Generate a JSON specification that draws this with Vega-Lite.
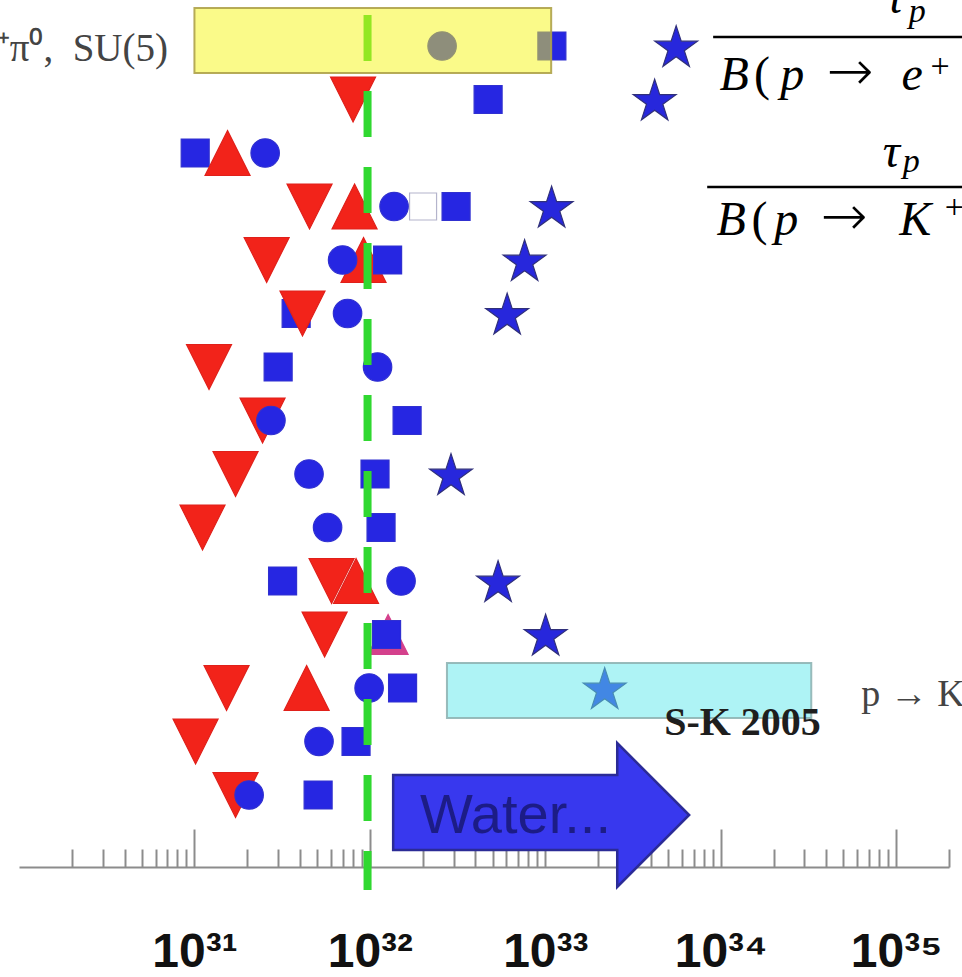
{
  "$schema": "https://vega.github.io/schema/vega-lite/v6.json",
  "width": 930,
  "height": 867,
  "autosize": {"type": "none"},
  "padding": {"left": 19, "top": 0, "right": 13, "bottom": 110},
  "background": "white",
  "config": {"view": {"stroke": null}},
  "datasets": {
    "markers": [
      {"row": 1, "x": 2.58e32, "kind": "circle"}, {"row": 1, "x": 1.09e33, "kind": "square"}, {"row": 1, "x": 5.57e33, "kind": "star"},
      {"row": 2, "x": 8.02e31, "kind": "tri-down"}, {"row": 2, "x": 4.72e32, "kind": "square"}, {"row": 2, "x": 4.2e33, "kind": "star"},
      {"row": 3, "x": 1.01e31, "kind": "square"}, {"row": 3, "x": 1.544e31, "kind": "tri-up"}, {"row": 3, "x": 2.53e31, "kind": "circle"},
      {"row": 4, "x": 4.53e31, "kind": "tri-down"}, {"row": 4, "x": 8.18e31, "kind": "tri-up"}, {"row": 4, "x": 1.374e32, "kind": "circle"}, {"row": 4, "x": 2.01e32, "kind": "open"}, {"row": 4, "x": 3.1e32, "kind": "square"}, {"row": 4, "x": 1.086e33, "kind": "star"},
      {"row": 5, "x": 9.2e31, "kind": "tri-up"}, {"row": 5, "x": 2.58e31, "kind": "tri-down"}, {"row": 5, "x": 6.99e31, "kind": "circle"}, {"row": 5, "x": 1.262e32, "kind": "square"}, {"row": 5, "x": 7.62e32, "kind": "star"},
      {"row": 6, "x": 3.8e31, "kind": "square"}, {"row": 6, "x": 4.13e31, "kind": "tri-down"}, {"row": 6, "x": 7.46e31, "kind": "circle"}, {"row": 6, "x": 6.06e32, "kind": "star"},
      {"row": 7, "x": 1.211e31, "kind": "tri-down"}, {"row": 7, "x": 3.0e31, "kind": "square"}, {"row": 7, "x": 1.106e32, "kind": "circle"},
      {"row": 8, "x": 2.445e31, "kind": "tri-down"}, {"row": 8, "x": 2.73e31, "kind": "circle"}, {"row": 8, "x": 1.63e32, "kind": "square"},
      {"row": 9, "x": 1.715e31, "kind": "tri-down"}, {"row": 9, "x": 4.5e31, "kind": "circle"}, {"row": 9, "x": 1.07e32, "kind": "square"}, {"row": 9, "x": 2.9e32, "kind": "star"},
      {"row": 10, "x": 1.112e31, "kind": "tri-down"}, {"row": 10, "x": 5.74e31, "kind": "circle"}, {"row": 10, "x": 1.158e32, "kind": "square"},
      {"row": 11, "x": 3.18e31, "kind": "square"}, {"row": 11, "x": 6.05e31, "kind": "tri-down"}, {"row": 11, "x": 8.34e31, "kind": "tri-up"}, {"row": 11, "x": 1.506e32, "kind": "circle"}, {"row": 11, "x": 5.38e32, "kind": "star"},
      {"row": 12, "x": 5.52e31, "kind": "tri-down"}, {"row": 12, "x": 1.27e32, "kind": "tri-up faint"}, {"row": 12, "x": 1.245e32, "kind": "square"}, {"row": 12, "x": 1.004e33, "kind": "star"},
      {"row": 13, "x": 1.524e31, "kind": "tri-down"}, {"row": 13, "x": 4.36e31, "kind": "tri-up"}, {"row": 13, "x": 9.9e31, "kind": "circle"}, {"row": 13, "x": 1.536e32, "kind": "square"}, {"row": 13, "x": 2.18e33, "kind": "star"},
      {"row": 14, "x": 1.015e31, "kind": "tri-down"}, {"row": 14, "x": 5.13e31, "kind": "circle"}, {"row": 14, "x": 8.34e31, "kind": "square"},
      {"row": 15, "x": 1.715e31, "kind": "tri-down"}, {"row": 15, "x": 2.05e31, "kind": "circle"}, {"row": 15, "x": 5.07e31, "kind": "square"}
    ],
    "bandSU5": [{"name": "SU(5)", "x": 1e31, "x2": 1.08e33, "row": 0.2897, "row2": 1.5047}],
    "bandSK": [{"name": "S-K 2005", "x": 2.75e32, "x2": 3.28e34, "row": 12.533, "row2": 13.561}],
    "limit": [{"x": 9.7e31, "row": 0.4206, "row2": 16.7757}],
    "arrow": [{"x": 9.47e32, "row": 15.374}],
    "water": [{"x": 1.933e32, "row": 15.7103, "label": "Water..."}],
    "leftnote": [{"x": 7.07e30, "row": 1.2804, "label": "p → e⁺π⁰,\u00a0\u00a0SU(5)"}],
    "rightnote": [{"x": 6.32e34, "row": 13.3364, "label": "p → K⁺ν̄, SUSY"}],
    "sk": [{"x": 4.76e33, "row": 13.8785, "label": "S-K 2005"}],
    "bars": [
      {"x": 9.05e33, "x2": 4e35, "row": 0.8318},
      {"x": 8.37e33, "x2": 4e35, "row": 3.6355}
    ],
    "bigItalic": [
      {"t": "τ", "x": 9.87e34, "row": 0.3832},
      {"t": "B", "x": 1.192e34, "row": 1.8224},
      {"t": "p", "x": 2.554e34, "row": 1.8224},
      {"t": "e", "x": 1.234e35, "row": 1.8224},
      {"t": "τ", "x": 9.37e34, "row": 3.2617},
      {"t": "B", "x": 1.146e34, "row": 4.5327},
      {"t": "p", "x": 2.36e34, "row": 4.5327},
      {"t": "K", "x": 1.283e35, "row": 4.5327}
    ],
    "bigUpright": [
      {"t": "(", "x": 1.72e34, "row": 1.8224},
      {"t": "(", "x": 1.66e34, "row": 4.5327}
    ],
    "arrows": [
      {"t": "→", "x": 5.466e34, "row": 1.8224},
      {"t": "→", "x": 5.05e34, "row": 4.5327}
    ],
    "smallItalic": [
      {"t": "p", "x": 1.317e35, "row": 0.5514},
      {"t": "p", "x": 1.218e35, "row": 3.3551}
    ],
    "smallUpright": [
      {"t": "+", "x": 1.782e35, "row": 1.5794},
      {"t": "+", "x": 2.142e35, "row": 4.215}
    ]
  },
  "layer": [
    {
      "data": {"name": "markers"},
      "mark": {"type": "point", "filled": true, "opacity": 1, "strokeWidth": 1.2},
      "encoding": {
        "x": {
          "field": "x", "type": "quantitative",
          "scale": {"type": "log", "domain": [1e30, 2e35], "nice": false},
          "axis": {
            "title": null, "grid": false,
            "values": [2e30, 3e30, 4e30, 5e30, 6e30, 7e30, 8e30, 9e30,
                       1e31, 2e31, 3e31, 4e31, 5e31, 6e31, 7e31, 8e31, 9e31,
                       1e32, 2e32, 3e32, 4e32, 5e32, 6e32, 7e32, 8e32, 9e32,
                       1e33, 2e33, 3e33, 4e33, 5e33, 6e33, 7e33, 8e33, 9e33,
                       1e34, 2e34, 3e34, 4e34, 5e34, 6e34, 7e34, 8e34, 9e34,
                       1e35, 2e35],
            "domainColor": "#8c8c8c", "domainWidth": 2.2,
            "tickColor": "#8c8c8c", "tickWidth": 2,
            "tickSize": {"condition": {"test": "abs(log(datum.value)/LN10 - round(log(datum.value)/LN10)) < 0.001", "value": -38}, "value": -18},
            "labelExpr": "abs(log(datum.value)/LN10 - round(log(datum.value)/LN10)) < 0.001 ? '10' + ['⁰','¹','²','³','⁴','⁵','⁶','⁷','⁸','⁹'][floor(round(log(datum.value)/LN10)/10)] + ['⁰','¹','²','³','⁴','⁵','⁶','⁷','⁸','⁹'][round(log(datum.value)/LN10) % 10] : ''",
            "labelFont": "Liberation Sans", "labelFontWeight": "bold", "labelFontSize": 48,
            "labelColor": "#111111", "labelPadding": 137, "labelBaseline": "alphabetic",
            "labelOverlap": false, "labelFlush": false, "labelBound": false
          }
        },
        "y": {
          "field": "row", "type": "quantitative",
          "scale": {"domain": [0.14, 16.346], "reverse": true, "nice": false, "zero": false},
          "axis": null
        },
        "shape": {
          "field": "kind", "type": "nominal", "legend": null,
          "scale": {
            "domain": ["square", "circle", "tri-down", "tri-up", "star", "open", "tri-up faint"],
            "range": ["square", "circle", "M-1,-1L1,-1L0,1Z", "M0,-1L1,1L-1,1Z",
                      "M0,-0.905L0.2245,-0.214L0.951,-0.214L0.363,0.213L0.588,0.904L0,0.477L-0.588,0.904L-0.363,0.213L-0.951,-0.214L-0.2245,-0.214Z",
                      "square", "M0,-1L1,1L-1,1Z"]
          }
        },
        "fill": {
          "field": "kind", "type": "nominal", "legend": null,
          "scale": {
            "domain": ["square", "circle", "tri-down", "tri-up", "star", "open", "tri-up faint"],
            "range": ["#2626e2", "#2626e2", "#f2231a", "#f2231a", "#2727dc", "#ffffff", "#d4408c"]
          }
        },
        "stroke": {
          "field": "kind", "type": "nominal", "legend": null,
          "scale": {
            "domain": ["square", "circle", "tri-down", "tri-up", "star", "open", "tri-up faint"],
            "range": ["#3030d0", "#3030d0", "#e0201a", "#e0201a", "#30307a", "#b4b4cc", "#d4408c"]
          }
        },
        "size": {
          "field": "kind", "type": "nominal", "legend": null,
          "scale": {
            "type": "ordinal",
            "domain": ["square", "circle", "tri-down", "tri-up", "star", "open", "tri-up faint"],
            "range": [784, 810, 2025, 2025, 2025, 729, 1600]
          }
        }
      }
    },
    {
      "data": {"name": "limit"},
      "mark": {"type": "rule", "color": "#30d830", "strokeWidth": 8, "strokeDash": [46, 30]},
      "encoding": {
        "x": {"field": "x", "type": "quantitative", "scale": {"type": "log", "domain": [1e30, 2e35], "nice": false}},
        "y": {"field": "row", "type": "quantitative", "scale": {"domain": [0.14, 16.346], "reverse": true, "nice": false, "zero": false}},
        "y2": {"field": "row2"}
      }
    },
    {
      "data": {"name": "bandSU5"},
      "mark": {"type": "rect", "fill": "#f5f514", "fillOpacity": 0.5, "stroke": "#aea24a", "strokeWidth": 2, "strokeOpacity": 0.9},
      "encoding": {
        "x": {"field": "x", "type": "quantitative", "scale": {"type": "log", "domain": [1e30, 2e35], "nice": false}},
        "x2": {"field": "x2"},
        "y": {"field": "row", "type": "quantitative", "scale": {"domain": [0.14, 16.346], "reverse": true, "nice": false, "zero": false}},
        "y2": {"field": "row2"}
      }
    },
    {
      "data": {"name": "bandSK"},
      "mark": {"type": "rect", "fill": "#5de7eb", "fillOpacity": 0.5, "stroke": "#8fb4b4", "strokeWidth": 2, "strokeOpacity": 0.9},
      "encoding": {
        "x": {"field": "x", "type": "quantitative", "scale": {"type": "log", "domain": [1e30, 2e35], "nice": false}},
        "x2": {"field": "x2"},
        "y": {"field": "row", "type": "quantitative", "scale": {"domain": [0.14, 16.346], "reverse": true, "nice": false, "zero": false}},
        "y2": {"field": "row2"}
      }
    },
    {
      "data": {"name": "arrow"},
      "mark": {"type": "point", "filled": true, "opacity": 1, "fill": "#3838ee", "stroke": "#2b2b96", "strokeWidth": 2.5,
               "shape": "M-1,-0.27L0.514,-0.27L0.514,-0.486L1,0L0.514,0.486L0.514,0.236L-1,0.236Z", "size": 87616},
      "encoding": {
        "x": {"field": "x", "type": "quantitative", "scale": {"type": "log", "domain": [1e30, 2e35], "nice": false}},
        "y": {"field": "row", "type": "quantitative", "scale": {"domain": [0.14, 16.346], "reverse": true, "nice": false, "zero": false}}
      }
    },
    {
      "data": {"name": "water"},
      "mark": {"type": "text", "font": "Liberation Sans", "fontSize": 56, "fill": "#1c1c86", "align": "left", "baseline": "alphabetic"},
      "encoding": {
        "x": {"field": "x", "type": "quantitative", "scale": {"type": "log", "domain": [1e30, 2e35], "nice": false}},
        "y": {"field": "row", "type": "quantitative", "scale": {"domain": [0.14, 16.346], "reverse": true, "nice": false, "zero": false}},
        "text": {"field": "label"}
      }
    },
    {
      "data": {"name": "leftnote"},
      "mark": {"type": "text", "font": "Liberation Serif", "fontSize": 39, "fill": "#444444", "align": "right", "baseline": "alphabetic"},
      "encoding": {
        "x": {"field": "x", "type": "quantitative", "scale": {"type": "log", "domain": [1e30, 2e35], "nice": false}},
        "y": {"field": "row", "type": "quantitative", "scale": {"domain": [0.14, 16.346], "reverse": true, "nice": false, "zero": false}},
        "text": {"field": "label"}
      }
    },
    {
      "data": {"name": "rightnote"},
      "mark": {"type": "text", "font": "Liberation Serif", "fontSize": 38, "fill": "#444444", "align": "left", "baseline": "alphabetic"},
      "encoding": {
        "x": {"field": "x", "type": "quantitative", "scale": {"type": "log", "domain": [1e30, 2e35], "nice": false}},
        "y": {"field": "row", "type": "quantitative", "scale": {"domain": [0.14, 16.346], "reverse": true, "nice": false, "zero": false}},
        "text": {"field": "label"}
      }
    },
    {
      "data": {"name": "sk"},
      "mark": {"type": "text", "font": "Liberation Serif", "fontSize": 40, "fontWeight": "bold", "fill": "#1e1e1e", "align": "left", "baseline": "alphabetic"},
      "encoding": {
        "x": {"field": "x", "type": "quantitative", "scale": {"type": "log", "domain": [1e30, 2e35], "nice": false}},
        "y": {"field": "row", "type": "quantitative", "scale": {"domain": [0.14, 16.346], "reverse": true, "nice": false, "zero": false}},
        "text": {"field": "label"}
      }
    },
    {
      "data": {"name": "bars"},
      "mark": {"type": "rule", "color": "#000000", "strokeWidth": 2.5},
      "encoding": {
        "x": {"field": "x", "type": "quantitative", "scale": {"type": "log", "domain": [1e30, 2e35], "nice": false}},
        "x2": {"field": "x2"},
        "y": {"field": "row", "type": "quantitative", "scale": {"domain": [0.14, 16.346], "reverse": true, "nice": false, "zero": false}}
      }
    },
    {
      "data": {"name": "bigItalic"},
      "mark": {"type": "text", "font": "Liberation Serif", "fontStyle": "italic", "fontSize": 48, "fill": "#000000", "align": "center", "baseline": "alphabetic"},
      "encoding": {
        "x": {"field": "x", "type": "quantitative", "scale": {"type": "log", "domain": [1e30, 2e35], "nice": false}},
        "y": {"field": "row", "type": "quantitative", "scale": {"domain": [0.14, 16.346], "reverse": true, "nice": false, "zero": false}},
        "text": {"field": "t"}
      }
    },
    {
      "data": {"name": "bigUpright"},
      "mark": {"type": "text", "font": "Liberation Serif", "fontSize": 48, "fill": "#000000", "align": "center", "baseline": "alphabetic"},
      "encoding": {
        "x": {"field": "x", "type": "quantitative", "scale": {"type": "log", "domain": [1e30, 2e35], "nice": false}},
        "y": {"field": "row", "type": "quantitative", "scale": {"domain": [0.14, 16.346], "reverse": true, "nice": false, "zero": false}},
        "text": {"field": "t"}
      }
    },
    {
      "data": {"name": "arrows"},
      "mark": {"type": "text", "font": "DejaVu Sans", "fontWeight": 300, "fontSize": 56, "fill": "#000000", "align": "center", "baseline": "alphabetic"},
      "encoding": {
        "x": {"field": "x", "type": "quantitative", "scale": {"type": "log", "domain": [1e30, 2e35], "nice": false}},
        "y": {"field": "row", "type": "quantitative", "scale": {"domain": [0.14, 16.346], "reverse": true, "nice": false, "zero": false}},
        "text": {"field": "t"}
      }
    },
    {
      "data": {"name": "smallItalic"},
      "mark": {"type": "text", "font": "Liberation Serif", "fontStyle": "italic", "fontSize": 34, "fill": "#000000", "align": "center", "baseline": "alphabetic"},
      "encoding": {
        "x": {"field": "x", "type": "quantitative", "scale": {"type": "log", "domain": [1e30, 2e35], "nice": false}},
        "y": {"field": "row", "type": "quantitative", "scale": {"domain": [0.14, 16.346], "reverse": true, "nice": false, "zero": false}},
        "text": {"field": "t"}
      }
    },
    {
      "data": {"name": "smallUpright"},
      "mark": {"type": "text", "font": "Liberation Serif", "fontSize": 34, "fill": "#000000", "align": "center", "baseline": "alphabetic"},
      "encoding": {
        "x": {"field": "x", "type": "quantitative", "scale": {"type": "log", "domain": [1e30, 2e35], "nice": false}},
        "y": {"field": "row", "type": "quantitative", "scale": {"domain": [0.14, 16.346], "reverse": true, "nice": false, "zero": false}},
        "text": {"field": "t"}
      }
    }
  ]
}
